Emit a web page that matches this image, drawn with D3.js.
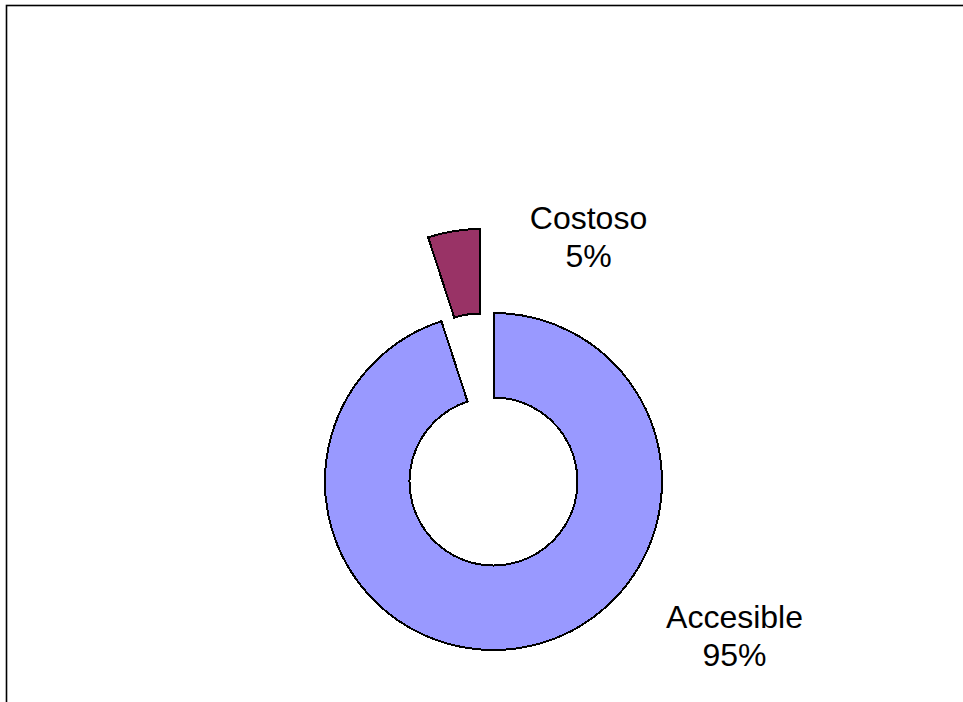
<!DOCTYPE html>
<html>
<head>
<meta charset="utf-8">
<script src="https://cdn.jsdelivr.net/npm/d3@7"></script>
<style>
  body { margin: 0; background: #fff; }
  svg { display: block; }
  text { font-family: "Liberation Sans", Arial, sans-serif; }
</style>
</head>
<body>
<div id="app"></div>
<script>
const categories = ['Accesible', 'Costoso'];
const values = [95, 5];
const colors = ['#9999ff', '#993366'];
const pctLabels = ['95%', '5%'];

const width = 963;
const height = 702;
const cx = 493.5;
const cy = 481.5;
const outerR = 168.5;
const innerR = 84;
const explode = 85;

const dataset = categories.map((c, i) => ({ name: c, value: values[i], color: colors[i], pct: pctLabels[i] }));

const svg = d3.select('#app')
              .append('svg')
              .attr('width', width)
              .attr('height', height)

// chart frame (only top and left edges fall inside the picture)
svg.append('rect')
   .attr('x', 6.5)
   .attr('y', 5.5)
   .attr('width', 1200)
   .attr('height', 1200)
   .attr('fill', 'none')
   .attr('stroke', '#000')
   .attr('stroke-width', 1.6)

const g = svg.append('g')
             .attr('transform', `translate(${cx}, ${cy})`)

const pie = d3.pie()
              .value(d => d.value)
              .sort(null)

const arc = d3.arc()
              .outerRadius(outerR)
              .innerRadius(innerR)

const slices = g.selectAll('.slice')
                .data(pie(dataset))
                .enter()
                .append('path')
                .attr('class', 'slice')
                .attr('fill', d => d.data.color)
                .attr('stroke', '#000')
                .attr('stroke-width', 2)
                .attr('stroke-linejoin', 'miter')
                .attr('shape-rendering', 'crispEdges')
                .attr('transform', d => {
                  // pull the small slice out along its bisector
                  if (d.data.name !== 'Costoso') return null;
                  const mid = (d.startAngle + d.endAngle) / 2;
                  return `translate(${Math.sin(mid) * explode}, ${-Math.cos(mid) * explode})`;
                })
                .attr('d', arc)

// data labels
const labelPos = {
  'Costoso': [95, -253],
  'Accesible': [241, 146]
};

const labels = g.selectAll('.label')
                .data(dataset)
                .enter()
                .append('text')
                .attr('class', 'label')
                .attr('text-anchor', 'middle')
                .attr('font-size', 32)
                .attr('fill', '#000')
                .attr('transform', d => `translate(${labelPos[d.name]})`)

labels.append('tspan')
      .attr('x', 0)
      .attr('y', 0)
      .text(d => d.name)

labels.append('tspan')
      .attr('x', 0)
      .attr('y', 38)
      .text(d => d.pct)
</script>
</body>
</html>
